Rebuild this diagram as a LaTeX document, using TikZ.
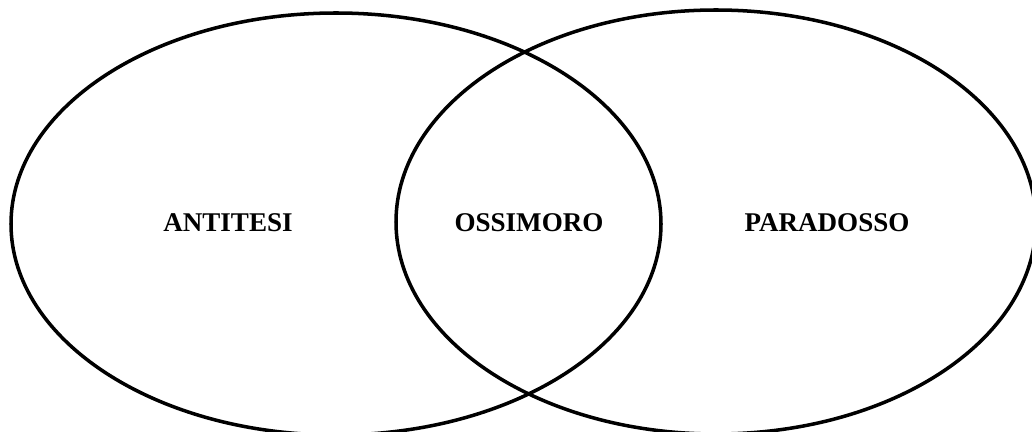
\documentclass[tikz,border=0pt]{standalone}
\usepackage{fontspec}
\setmainfont{Liberation Serif}
\usepackage{tikz}
\usetikzlibrary{positioning}

\begin{document}
\begin{tikzpicture}[x=0.02cm, y=-0.02cm,
		setborder/.style={line width=2pt, black},
		setlabel/.style={font=\fontsize{15.4pt}{18pt}\selectfont\bfseries, text=black}]
			% Frame and sets:
			\useasboundingbox (0, 0) rectangle (1032, 432);
			\draw[setborder] (336, 224) ellipse[x radius=325, y radius=211];
			\draw[setborder] (716, 222) ellipse[x radius=320, y radius=212];
			% Labels:
			\node[setlabel](antitesi) at (228, 223){ANTITESI};
			\node[setlabel](ossimoro) at (529, 223){OSSIMORO};
			\node[setlabel](paradosso) at (827, 223){PARADOSSO};
		\end{tikzpicture}
\end{document}
